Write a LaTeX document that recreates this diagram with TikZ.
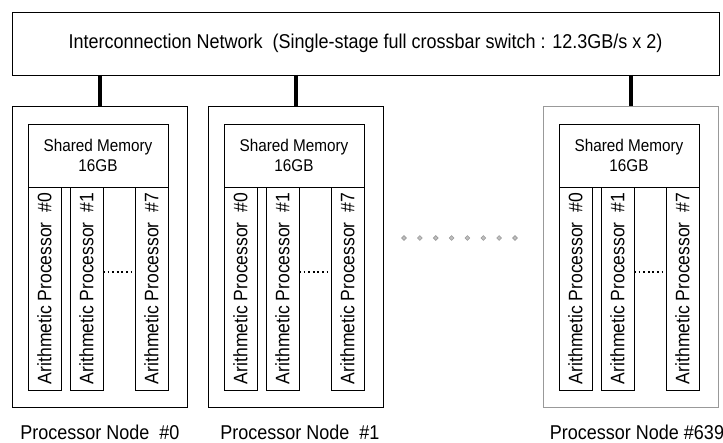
\documentclass[tikz,border=0pt]{standalone}
\usepackage{fontspec}
\setmainfont[FakeStretch=0.9]{Liberation Sans}
\usetikzlibrary{shapes.geometric}
\begin{document}
\begin{tikzpicture}[x=1pt,y=-1pt,
  box/.style={draw, line width=0.8pt, inner sep=0pt, outer sep=0pt},
  nodebox/.style={box, minimum width=175pt, minimum height=301pt, anchor=north west},
  membox/.style={box, minimum width=140pt, minimum height=63pt, anchor=north west, align=center, font=\fontsize{17}{20}\selectfont},
  procbox/.style={box, rotate=90, minimum width=203pt, minimum height=33pt, font=\fontsize{19.5}{22}\selectfont},
  link/.style={line width=4pt},
  dotline/.style={line width=2pt, dash pattern=on 1.8pt off 2.8pt},
  lab/.style={font=\fontsize{20}{24}\selectfont, inner sep=0pt, anchor=base},
  dot/.style={diamond, draw=gray!80, fill=gray!50, line width=0.6pt, inner sep=0pt, minimum size=5pt}]
\useasboundingbox (0,0) rectangle (723,443);
\fill[white] (0,0) rectangle (723,443);
\node[box, minimum width=707pt, minimum height=63pt, font=\fontsize{20}{24}\selectfont] (net) at (365.5,43.5)
  {Interconnection Network\ \ (Single-stage full crossbar switch : 12.3GB/s x 2)};
\foreach \L/\id/\lx/\lab/\col in {12/0/100/{Processor Node\ \ \#0}/black,
                                 208/1/300/{Processor Node\ \ \#1}/black,
                                 543/639/637/{Processor Node \#639}/gray!80} {
  \node[nodebox, draw=\col] (n\id) at (\L,106) {};
  \node[membox] (sm\id) at (\L+16,124) {Shared Memory\\16GB};
  \node[procbox] (pa\id) at (\L+32.5,288.5) {Arithmetic Processor\ \ \#0};
  \node[procbox] (pb\id) at (\L+74.5,288.5) {Arithmetic Processor\ \ \#1};
  \node[procbox] (pc\id) at (\L+139.5,288.5) {Arithmetic Processor\ \ \#7};
  \draw[dotline] ([yshift=16.5pt]pb\id.south) -- ([yshift=16.5pt]pc\id.north);
  \draw[link] (net.south -| n\id.north) -- (n\id.north);
  \node[lab] (lab\id) at (\lx,439) {\lab};
}
\foreach \i in {0,...,7} {
  \node[dot] (d\i) at (404+\i*15.86,238) {};
}
\end{tikzpicture}
\end{document}
